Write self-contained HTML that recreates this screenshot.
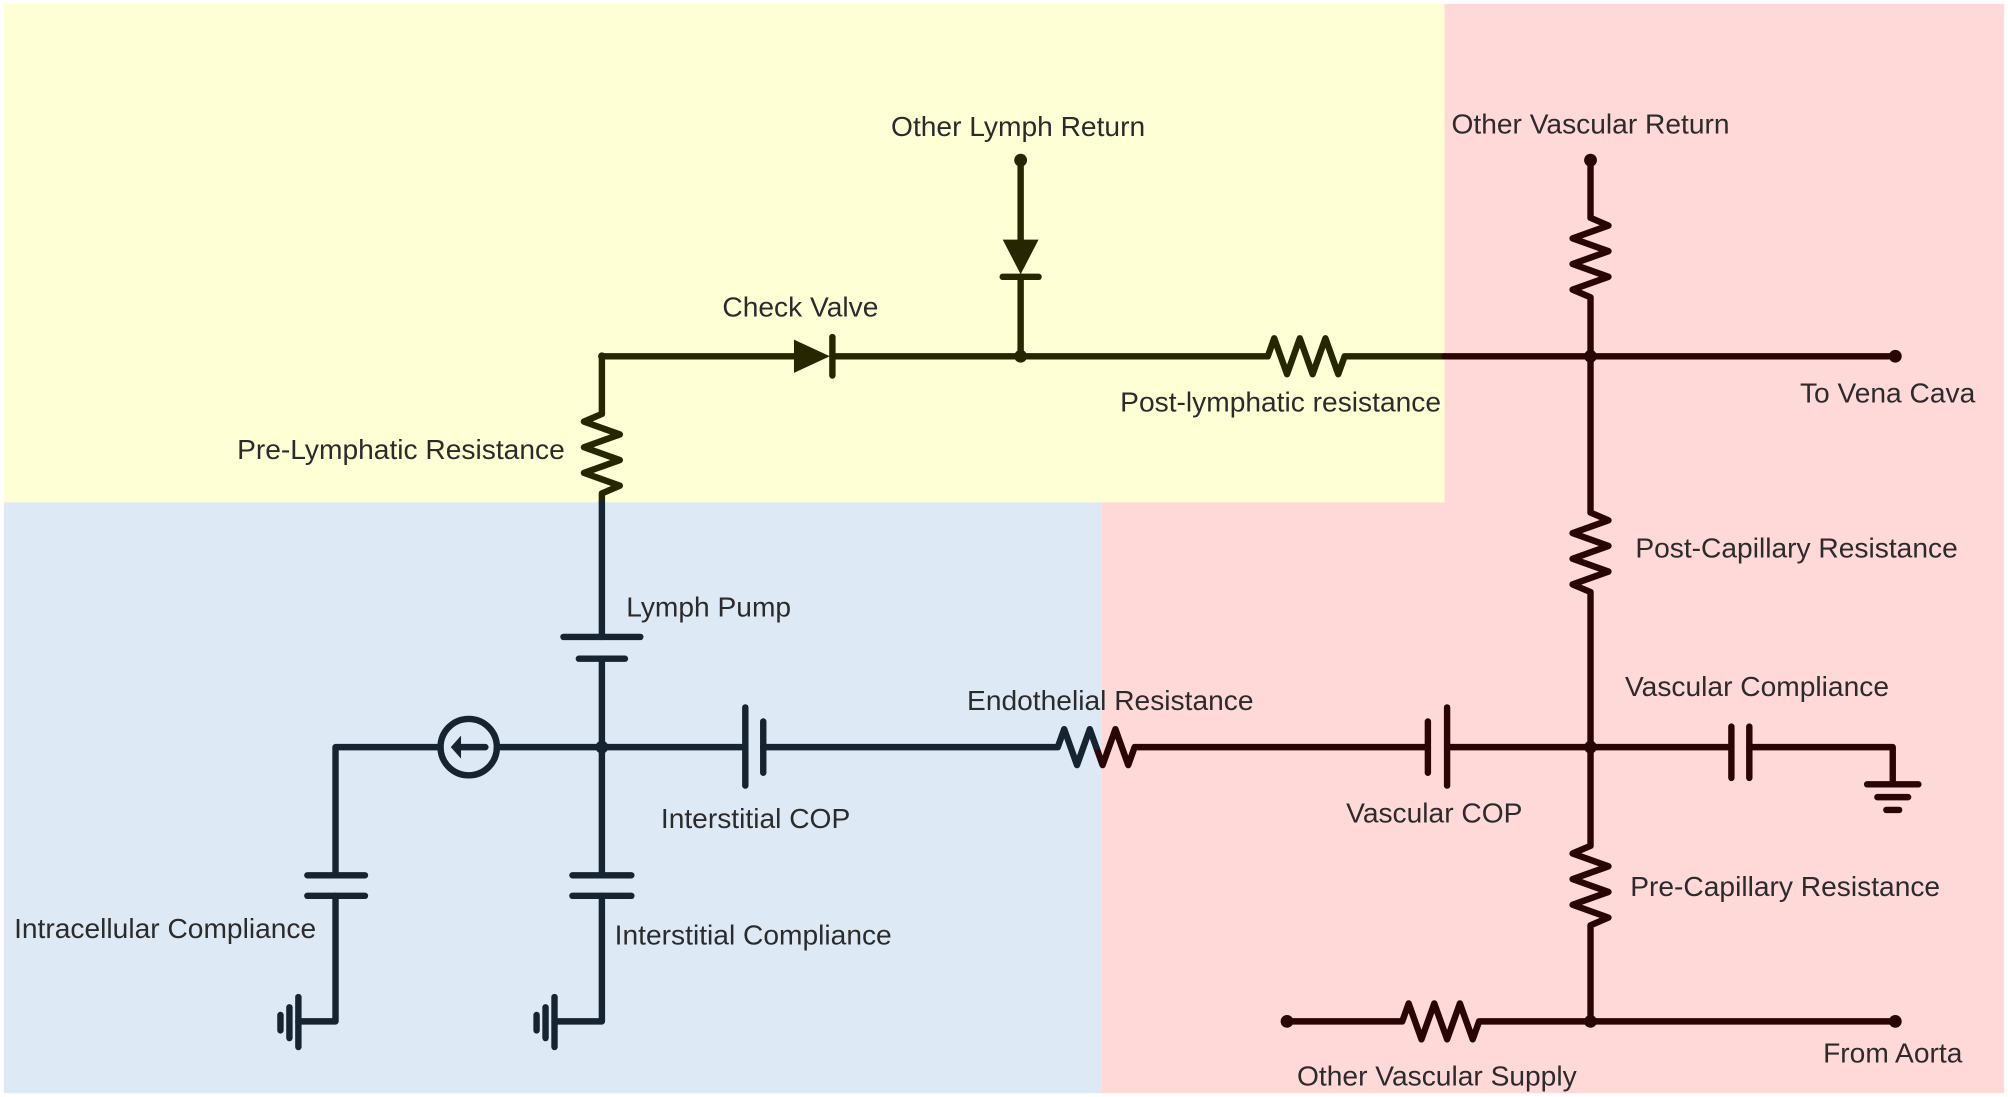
<!DOCTYPE html>
<html><head><meta charset="utf-8"><style>
html,body{margin:0;padding:0;background:#fff;}
svg{display:block;}
text{font-family:"Liberation Sans",sans-serif;font-size:22px;fill:#2b2b2b;}
</style></head><body>
<svg width="2008" height="1097" viewBox="0 0 1568 856" preserveAspectRatio="none" xmlns="http://www.w3.org/2000/svg">
<rect x="0" y="0" width="1568" height="856" fill="#fff"/>
<rect x="3" y="3" width="1125" height="389" fill="#ffffd6"/>
<rect x="1128" y="3" width="437" height="850" fill="#ffd8d8"/>
<rect x="860" y="392" width="268" height="461" fill="#ffd8d8"/>
<rect x="3" y="392" width="857" height="461" fill="#dde9f5"/>

<g fill="none" stroke-width="5" stroke-linecap="round" stroke-linejoin="round">
<g stroke="#262600">
<path d="M470 392 L470 385 L484 379 L456 369 L484 359 L456 349 L484 339 L456 329 L470 323 L470 278 L620 278"/>
<path d="M650 263 L650 293"/>
<path d="M650 278 L990 278 L995 264 L1005 292 L1015 264 L1025 292 L1035 264 L1045 292 L1050 278 L1128 278"/>
<path d="M797 125 L797 187"/>
<path d="M783 216 L811 216"/>
<path d="M797 216 L797 278"/>
</g>
<g stroke="#2a0505">
<path d="M1128 278 L1480 278"/>
<path d="M1242 125 L1242 170 L1256 176 L1228 186 L1256 196 L1228 206 L1256 216 L1228 226 L1242 232 L1242 400 L1256 406 L1228 416 L1256 426 L1228 436 L1256 446 L1228 456 L1242 462 L1242 660 L1228 666 L1256 676 L1228 686 L1256 696 L1228 706 L1256 716 L1242 722 L1242 797"/>
<path d="M856 583 L861 597 L871 569 L881 597 L886 583 L1115 583"/>
<path d="M1115 563 L1115 603"/>
<path d="M1130 552 L1130 613"/>
<path d="M1130 583 L1352 583"/>
<path d="M1352 567 L1352 607"/>
<path d="M1366 567 L1366 607"/>
<path d="M1366 583 L1478 583 L1478 612"/>
<path d="M1458 612 L1498 612"/>
<path d="M1466 622 L1490 622"/>
<path d="M1473 632 L1483 632"/>
<path d="M1005 797 L1095 797 L1100 783 L1110 811 L1120 783 L1130 811 L1140 783 L1150 811 L1155 797 L1480 797"/>
</g>
<g stroke="#162330">
<path d="M470 392 L470 497"/>
<path d="M440 497 L500 497"/>
<path d="M452 514 L488 514"/>
<path d="M470 514 L470 683"/>
<path d="M447 683 L493 683"/>
<path d="M447 699 L493 699"/>
<path d="M470 699 L470 797 L433 797"/>
<path d="M433 778 L433 817"/>
<path d="M426 786 L426 810"/>
<path d="M419 792 L419 804"/>
<path d="M262 683 L262 583 L344 583"/>
<path d="M388 583 L582 583"/>
<path d="M582 552 L582 613"/>
<path d="M596 563 L596 603"/>
<path d="M596 583 L826 583 L831 569 L841 597 L851 569 L856 583"/>
<path d="M240 683 L285 683"/>
<path d="M240 699 L285 699"/>
<path d="M262 699 L262 797 L233 797"/>
<path d="M233 778 L233 817"/>
<path d="M226 786 L226 810"/>
<path d="M219 792 L219 804"/>
<circle cx="366" cy="583" r="22"/>
<path d="M356 583 L379 583"/>
</g>
</g>
<polygon points="620,265 620,291 648,278" fill="#262600"/>
<polygon points="783,187 811,187 797,214" fill="#262600"/>
<polygon points="352,583 360,574 360,592" fill="#162330"/>
<g fill="#262600"><circle cx="797" cy="125" r="5"/><circle cx="797" cy="278" r="5"/><circle cx="470" cy="278" r="3"/></g>
<g fill="#2a0505"><circle cx="1242" cy="125" r="5"/><circle cx="1242" cy="278" r="5"/><circle cx="1480" cy="278" r="5"/><circle cx="1242" cy="583" r="5"/><circle cx="1242" cy="797" r="5"/><circle cx="1005" cy="797" r="5"/><circle cx="1480" cy="797" r="5"/></g>
<g fill="#162330"><circle cx="470" cy="583" r="5"/></g>

<text x="795" y="106" text-anchor="middle">Other Lymph Return</text>
<text x="1242" y="104" text-anchor="middle">Other Vascular Return</text>
<text x="625" y="247" text-anchor="middle">Check Valve</text>
<text x="1000" y="321" text-anchor="middle">Post-lymphatic resistance</text>
<text x="1474" y="314" text-anchor="middle">To Vena Cava</text>
<text x="441" y="358" text-anchor="end">Pre-Lymphatic Resistance</text>
<text x="1277" y="435">Post-Capillary Resistance</text>
<text x="489" y="481">Lymph Pump</text>
<text x="867" y="554" text-anchor="middle">Endothelial Resistance</text>
<text x="1372" y="543" text-anchor="middle">Vascular Compliance</text>
<text x="590" y="646" text-anchor="middle">Interstitial COP</text>
<text x="1120" y="642" text-anchor="middle">Vascular COP</text>
<text x="1273" y="699">Pre-Capillary Resistance</text>
<text x="11" y="732">Intracellular Compliance</text>
<text x="480" y="737">Interstitial Compliance</text>
<text x="1478" y="829" text-anchor="middle">From Aorta</text>
<text x="1122" y="847" text-anchor="middle">Other Vascular Supply</text>
</svg>
</body></html>
